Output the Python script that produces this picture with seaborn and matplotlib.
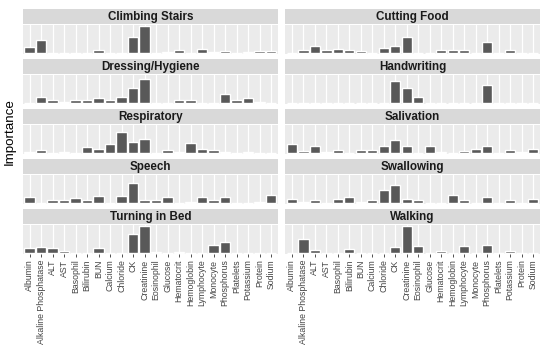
import pandas as pd
import matplotlib
matplotlib.use("Agg")
import matplotlib.pyplot as plt
import seaborn as sns

# Dữ liệu
categories = ["Albumin", "Alkaline Phosphatase", "ALT", "AST", "Basophil", "Bilirubin",
              "BUN", "Calcium", "Chloride", "CK", "Creatinine", "Eosinophil", "Glucose",
              "Hematocrit", "Hemoglobin", "Lymphocyte", "Monocyte", "Phosphorus",
              "Platelets", "Potassium", "Protein", "Sodium"]

climbing = [22, 50, 0, 0, 0, 0, 11, 0, 0, 59, 100, 0, 3, 11, 0, 14, 3, 6, 0, 3, 6, 6]
dressing = [0, 22, 12, 4, 12, 9, 16, 9, 23, 54, 89, 0, 0, 9, 9, 0, 0, 34, 12, 16, 4, 0]
respiratory = [4, 12, 0, 4, 0, 20, 15, 32, 79, 42, 51, 0, 9, 4, 35, 15, 9, 4, 0, 4, 0, 0]
speech = [21, 0, 9, 12, 16, 12, 24, 0, 24, 75, 9, 9, 20, 0, 4, 20, 12, 20, 0, 0, 4, 28]
turning = [16, 20, 16, 5, 0, 0, 16, 0, 0, 72, 100, 3, 0, 3, 0, 0, 28, 39, 0, 0, 0, 0]
cutting = [0, 10, 24, 10, 15, 11, 7, 0, 19, 24, 59, 0, 0, 11, 11, 11, 0, 39, 0, 11, 0, 0]
handwriting = [0, 0, 0, 0, 0, 0, 0, 0, 0, 84, 55, 22, 0, 0, 0, 0, 0, 66, 0, 0, 0, 0]
salivation = [32, 6, 24, 3, 9, 0, 11, 11, 26, 48, 26, 0, 26, 3, 0, 7, 15, 24, 0, 11, 3, 15]
swallowing = [15, 3, 9, 0, 15, 20, 3, 12, 48, 66, 15, 9, 0, 0, 31, 12, 0, 20, 0, 9, 0, 15]
walking = [0, 51, 11, 0, 0, 15, 0, 0, 0, 20, 100, 24, 0, 7, 0, 24, 0, 28, 0, 7, 0, 0]

panels = [
    ("Climbing Stairs", climbing), ("Cutting Food", cutting),
    ("Dressing/Hygiene", dressing), ("Handwriting", handwriting),
    ("Respiratory", respiratory), ("Salivation", salivation),
    ("Speech", speech), ("Swallowing", swallowing),
    ("Turning in Bed", turning), ("Walking", walking),
]

sns.set_style("white")
plt.rcParams["font.family"] = ["Liberation Sans", "DejaVu Sans"]

W, H = 550, 346
fig = plt.figure(figsize=(5.5, 3.46), dpi=100)

col_x = [(22.7, 278), (285, 540)]

for i, (name, vals) in enumerate(panels):
    r, c = divmod(i, 2)
    x0, x1 = col_x[c]
    strip_top = 9 + 50 * r
    panel_top = 25 + 50 * r
    panel_bot = 54 + 50 * r

    # nền tiêu đề (strip)
    sax = fig.add_axes([x0 / W, 1 - (strip_top + 15) / H, (x1 - x0) / W, 15 / H])
    sax.set_facecolor("#D9D9D9")
    sax.set_xticks([])
    sax.set_yticks([])
    for s in sax.spines.values():
        s.set_visible(False)
    sax.text(0.5, 0.45, name, ha="center", va="center", fontsize=8.4,
             fontweight="bold", color="#1A1A1A", transform=sax.transAxes)

    ax = fig.add_axes([x0 / W, 1 - panel_bot / H, (x1 - x0) / W, (panel_bot - panel_top) / H])
    ax.set_facecolor("#EBEBEB")
    df = pd.DataFrame({"marker": categories, "importance": vals})
    sns.barplot(data=df, x="marker", y="importance", order=categories,
                color="#595959", saturation=1, width=0.9, ax=ax)
    ax.set_axisbelow(True)
    ax.grid(axis="x", color="white", linewidth=0.9)
    ax.grid(axis="y", visible=False)
    ax.set_xlim(-0.6, len(categories) - 0.4)
    ax.set_ylim(-5, 105)
    ax.set_yticks([])
    ax.set_xlabel("")
    ax.set_ylabel("")
    for s in ax.spines.values():
        s.set_visible(False)
    if r == 4:
        ax.tick_params(axis="x", length=2.5, width=0.6, color="#333333",
                       labelsize=6.3, labelcolor="#444444", pad=1.5,
                       bottom=True)
        ax.set_xticks(range(len(categories)))
        ax.set_xticklabels(categories, rotation=90)
    else:
        ax.tick_params(axis="x", length=0, labelbottom=False)

fig.text(10 / W, 1 - 131.5 / H, "Importance", rotation=90, ha="center", va="center",
         fontsize=9.6, color="black")

fig.savefig("out.png", dpi=100)
